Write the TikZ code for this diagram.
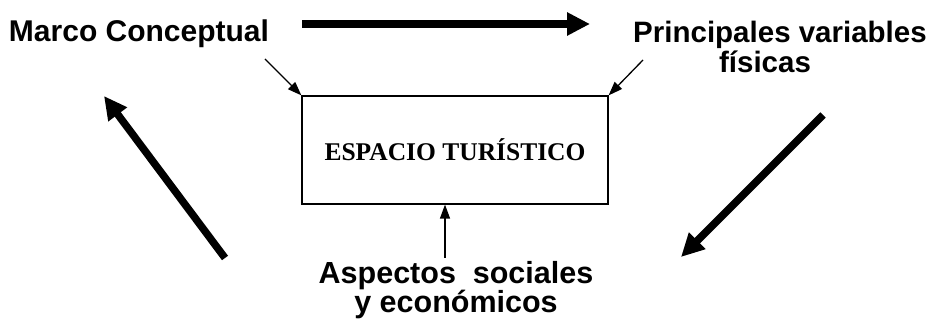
\documentclass[tikz,border=0pt]{standalone}
\usepackage{fontspec}
\setmainfont{Liberation Sans}
\newfontfamily\serifbf{Liberation Serif}
\usetikzlibrary{arrows.meta}
\begin{document}
\begin{tikzpicture}[x=1pt,y=-1pt,
  lbl/.style={font=\bfseries\fontsize{30}{30}\selectfont, inner sep=0pt},
  bigarrow/.style={line width=7.5pt, -{Triangle[length=23pt,width=22pt]}},
  thinarrow/.style={line width=1.3pt, -{Triangle[length=14pt,width=10pt]}},
  boxstyle/.style={draw, line width=1.2pt, minimum width=306pt, minimum height=108pt, inner sep=0pt,
    font=\serifbf\bfseries\fontsize{25.5}{30}\selectfont}
]
\useasboundingbox (0,0) rectangle (929,320);
\node[lbl, anchor=base] (marco) at (139,42) {Marco Conceptual};
\node[lbl, anchor=north, align=center, font=\bfseries\fontsize{29.5}{30}\selectfont] (princ) at (780,21) {Principales variables\\físicas\hspace*{30pt}};
\node[lbl, anchor=north, align=center, font=\bfseries\fontsize{30.5}{29.5}\selectfont] (asp) at (456,261) {Aspectos\ \ sociales\\y económicos};
\node[boxstyle] (box) at (455,150) {ESPACIO TURÍSTICO};

\coordinate (t1) at (302,24);
\coordinate (t2) at (590,24);
\coordinate (l1) at (225,258);
\coordinate (l2) at (104,96);
\coordinate (r1) at (823,115);
\coordinate (r2) at (681,257);
\coordinate (s1) at (265,59);
\coordinate (s2) at (643,60);
\coordinate (s3) at (445,258);

\draw[bigarrow] (t1) -- (t2);
\draw[bigarrow] (l1) -- (l2);
\draw[bigarrow] (r1) -- (r2);
\draw[thinarrow] (s1) -- (box.north west);
\draw[thinarrow] (s2) -- (box.north east);
\draw[thinarrow] (s3) -- (s3 |- box.south);
\end{tikzpicture}
\end{document}
